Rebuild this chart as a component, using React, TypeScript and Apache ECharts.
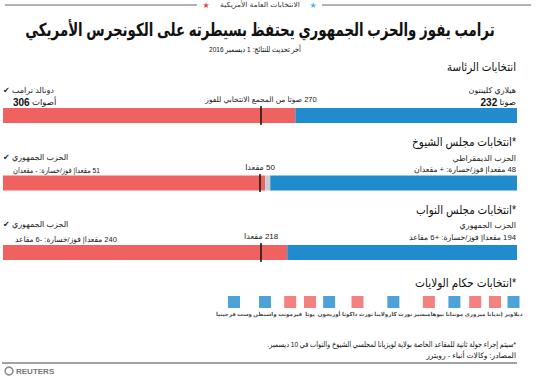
import React, { useEffect, useRef } from 'react';
import * as echarts from 'echarts';

const RLM = '\u200F';

// ---- data ----
const presidentVotes = [306, 232]; // [Trump (R), Clinton (D)]
const presidentThreshold = 270;
const senateSeats = [51, 1, 48]; // [R, undecided, D]
const senateThreshold = 50;
const houseSeats = [240, 194]; // [R, D]
const houseThreshold = 218;
const govStates = ['ديلاوير', 'إنديانا', 'ميزوري', 'مونتانا', 'نيوهامبشير', 'نورث كارولاينا', 'نورث داكوتا', 'أوريجون', 'يوتا', 'فيرمونت', 'واشنطن', 'وست فرجينيا'];
const govWinner = ['D', 'R', 'R', 'D', 'R', 'D', 'R', 'D', 'R', 'R', 'D', 'D'];

const RED = '#f0625f';
const BLUE = '#208bcd';
const GREY = '#c9ced4';
const FONT = 'Arial, "DejaVu Sans", sans-serif';

let ctx: CanvasRenderingContext2D | null = null;
function measure(text: string, font: string) {
  if (!ctx) ctx = document.createElement('canvas').getContext('2d')!;
  ctx.font = font;
  return ctx.measureText(text).width;
}

function txt(x: number, y: number, text: string, opts: any = {}) {
  const fontSize = opts.fontSize || 8;
  const fontWeight = opts.fontWeight || 'normal';
  let scaleX = 1;
  if (opts.fit) {
    const w = measure(text, `${fontWeight} ${fontSize}px ${FONT}`);
    if (w > 0) scaleX = Math.min(1.1, opts.fit / w);
  }
  return {
    type: 'text',
    x,
    y,
    scaleX,
    style: {
      text,
      fontFamily: FONT,
      fontSize,
      fontWeight,
      fill: opts.fill || '#222',
      align: opts.align || 'right',
      verticalAlign: 'middle',
      rich: opts.rich,
    },
  };
}

function buildOption() {
  const labelFont = 5.5;
  const gap = 2.5;
  const widths = govStates.map((s) => Math.max(12, measure(s, `bold ${labelFont}px ${FONT}`)));
  const offsets: number[] = [];
  widths.forEach((w, i) => {
    if (i === 0) offsets.push(0);
    else offsets.push(offsets[i - 1] + widths[i - 1] / 2 + gap + w / 2);
  });

  const barGrid = (top: number, height: number) => ({ left: 3, width: 514, top, height });
  const valAxis = (i: number, max: number) => ({ type: 'value', gridIndex: i, min: 0, max, show: false });
  const catAxis = (i: number) => ({ type: 'category', gridIndex: i, data: [''], show: false });

  const marker = (value: number, label: string, fontSize: number) => ({
    silent: true,
    symbol: ['none', 'none'],
    lineStyle: { color: '#111', width: 1.5, type: 'solid' },
    label: {
      show: true,
      position: 'end',
      distance: 3,
      formatter: label,
      fontFamily: FONT,
      fontSize,
      color: '#222',
    },
    data: [{ xAxis: value }],
  });

  const bar = (idx: number, value: number, color: string, extra: any = {}) => ({
    type: 'bar',
    xAxisIndex: idx,
    yAxisIndex: idx,
    stack: 's' + idx,
    barWidth: 15,
    data: [value],
    itemStyle: { color },
    ...extra,
  });

  const presTotal = presidentVotes[0] + presidentVotes[1];
  const senTotal = senateSeats[0] + senateSeats[1] + senateSeats[2];
  const houseTotal = houseSeats[0] + houseSeats[1];

  const numRich = {
    b: { fontFamily: FONT, fontSize: 10, fontWeight: 'bold', fill: '#111' },
    n: { fontFamily: FONT, fontSize: 8.5, fill: '#111' },
  };

  const graphic: any[] = [
    { type: 'line', shape: { x1: 5, y1: 5, x2: 197, y2: 5 }, style: { stroke: '#666', lineWidth: 1 } },
    { type: 'line', shape: { x1: 322, y1: 5, x2: 531, y2: 5 }, style: { stroke: '#666', lineWidth: 1 } },
    txt(206, 5, '★', { align: 'center', fill: '#e8474a', fontSize: 8 }),
    txt(313, 5, '★', { align: 'center', fill: '#5ab4e8', fontSize: 8 }),
    txt(260, 5, RLM + 'الانتخابات العامة الأمريكية', { align: 'center', fontSize: 7, fill: '#333', fit: 80 }),
    txt(260, 30, RLM + 'ترامب يفوز والحزب الجمهوري يحتفظ بسيطرته على الكونجرس الأمريكي', { align: 'center', fontSize: 18, fontWeight: 'bold', fill: '#111', fit: 470 }),
    txt(255, 49, RLM + 'آخر تحديث للنتائج: 1 ديسمبر 2016', { align: 'center', fontSize: 8, fill: '#111', fit: 92 }),

    // presidential
    txt(516, 67, RLM + 'انتخابات الرئاسة', { fontSize: 12, fill: '#111', fit: 69 }),
    txt(516, 90, RLM + 'هيلاري كلينتون', { fontSize: 8 }),
    txt(516, 102, '{b|' + presidentVotes[1] + '} {n|صوتا}', { rich: numRich }),
    txt(3, 90, '✔ دونالد ترامب', { align: 'left', fontSize: 8 }),
    txt(13, 102, '{b|' + presidentVotes[0] + '} {n|أصوات}', { align: 'left', rich: numRich }),

    // senate
    txt(516, 142, RLM + '*انتخابات مجلس الشيوخ', { fontSize: 12, fill: '#111', fit: 104 }),
    txt(516, 158, RLM + 'الحزب الديمقراطي', { fontSize: 8 }),
    txt(516, 169, RLM + senateSeats[2] + ' مقعدا| فوز/خسارة: + مقعدان', { fontSize: 8, fit: 102 }),
    txt(3, 157, '✔ الحزب الجمهوري', { align: 'left', fontSize: 8 }),
    txt(13, 170, RLM + senateSeats[0] + ' مقعدا| فوز/خسارة: - مقعدان', { align: 'left', fontSize: 8, fit: 87 }),

    // house
    txt(516, 210, RLM + '*انتخابات مجلس النواب', { fontSize: 12, fill: '#111', fit: 100 }),
    txt(516, 225, RLM + 'الحزب الجمهوري', { fontSize: 8 }),
    txt(516, 237, RLM + houseSeats[1] + ' مقعدا| فوز/خسارة: +6 مقاعد', { fontSize: 8, fit: 107 }),
    txt(3, 224, '✔ الحزب الجمهوري', { align: 'left', fontSize: 8 }),
    txt(15, 239, RLM + houseSeats[0] + ' مقعدا| فوز/خسارة: -6 مقاعد', { align: 'left', fontSize: 8, fit: 102 }),

    // governors
    txt(516, 283, RLM + '*انتخابات حكام الولايات', { fontSize: 12, fill: '#111', fit: 101 }),

    // footer
    txt(516, 344, RLM + '*سيتم إجراء جولة ثانية للمقاعد الخاصة بولاية لويزيانا لمجلسي الشيوخ والنواب في 10 ديسمبر.' + RLM, { fontSize: 8, fill: '#111', fit: 249 }),
    txt(516, 355, RLM + 'المصادر: وكالات أنباء - رويترز', { fontSize: 7.5, fill: '#111' }),
    { type: 'line', shape: { x1: 2, y1: 363, x2: 517, y2: 363 }, style: { stroke: '#444', lineWidth: 1 } },
    { type: 'circle', shape: { cx: 9, cy: 371, r: 4 }, style: { fill: 'none', stroke: '#888', lineWidth: 1.5 } },
    txt(16, 371, 'REUTERS', { align: 'left', fontSize: 8, fontWeight: 'bold', fill: '#777' }),
  ];

  return {
    animation: false,
    backgroundColor: '#fff',
    textStyle: { fontFamily: FONT },
    grid: [
      barGrid(106, 19),
      barGrid(174, 18),
      barGrid(243, 19),
      { left: 234, right: 27.5, top: 296, height: 12 },
    ],
    xAxis: [
      valAxis(0, presTotal),
      valAxis(1, senTotal),
      valAxis(2, houseTotal),
      { type: 'value', gridIndex: 3, min: 0, max: offsets[offsets.length - 1], inverse: true, show: false },
    ],
    yAxis: [catAxis(0), catAxis(1), catAxis(2), { type: 'value', gridIndex: 3, min: -1, max: 1, show: false }],
    series: [
      bar(0, presidentVotes[0], RED, { markLine: marker(presidentThreshold, RLM + presidentThreshold + ' صوتا من المجمع الانتخابي للفوز', 7.5) }),
      bar(0, presidentVotes[1], BLUE),
      bar(1, senateSeats[0], RED, { markLine: marker(senateThreshold, RLM + senateThreshold + ' مقعدا', 8) }),
      bar(1, senateSeats[1], GREY),
      bar(1, senateSeats[2], BLUE),
      bar(2, houseSeats[0], RED, { markLine: marker(houseThreshold, RLM + houseThreshold + ' مقعدا', 8) }),
      bar(2, houseSeats[1], BLUE),
      {
        type: 'scatter',
        xAxisIndex: 3,
        yAxisIndex: 3,
        symbol: 'rect',
        symbolSize: 12,
        silent: true,
        data: govStates.map((s, i) => ({
          name: s,
          value: [offsets[i], 0],
          itemStyle: { color: govWinner[i] === 'R' ? RED : BLUE },
        })),
        label: {
          show: true,
          position: 'bottom',
          distance: 3,
          formatter: (p: any) => p.name,
          fontFamily: FONT,
          fontSize: labelFont,
          fontWeight: 'bold',
          color: '#111',
        },
      },
    ],
    graphic,
  };
}

export default function App() {
  const ref = useRef<HTMLDivElement>(null);
  useEffect(() => {
    const chart = echarts.init(ref.current!, null, { renderer: 'svg' });
    chart.setOption(buildOption() as any);
    return () => chart.dispose();
  }, []);
  return <div ref={ref} style={{ position: 'absolute', left: 0, top: 0, width: 541, height: 378 }} />;
}
